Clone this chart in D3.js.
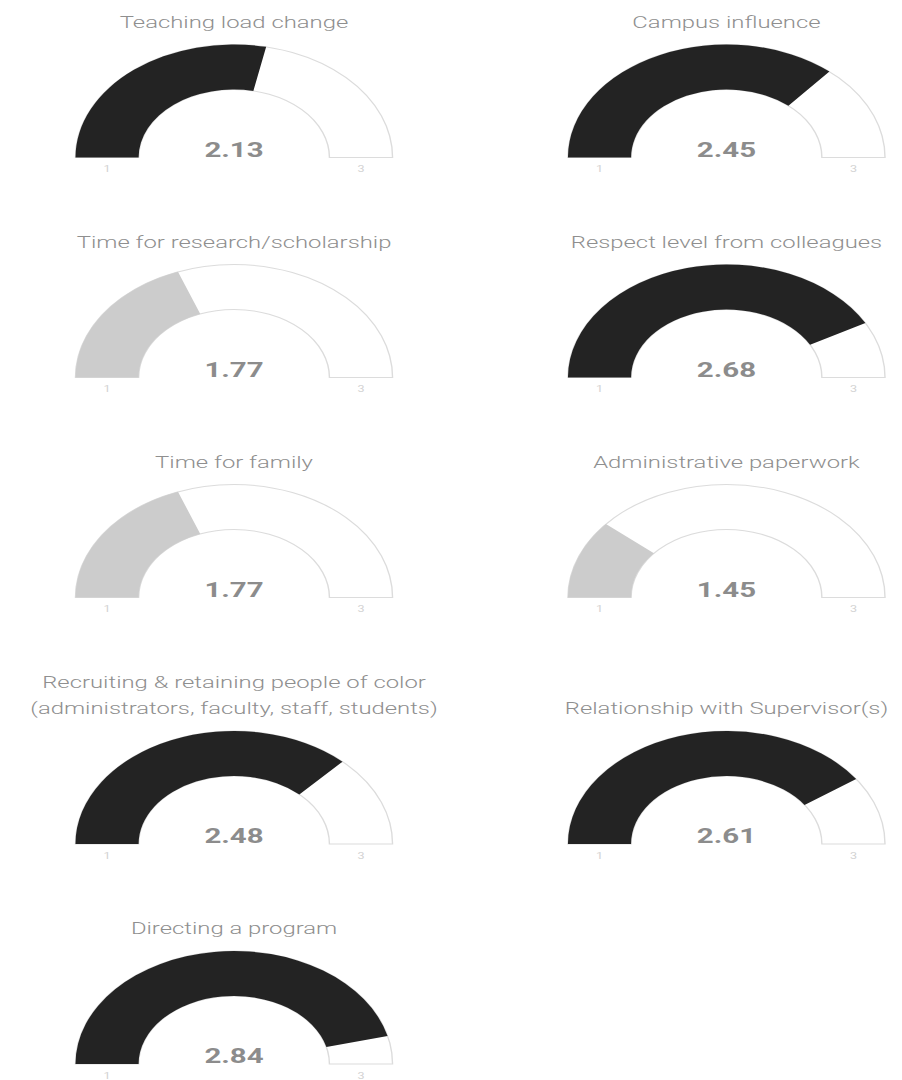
<!DOCTYPE html>
<html>
<head>
<meta charset="utf-8">
<script src="https://cdn.jsdelivr.net/npm/d3@7/dist/d3.min.js"></script>
<style>
  html, body { margin: 0; padding: 0; background: #fff; }
  svg { display: block; }
</style>
</head>
<body>
<svg id="chart"></svg>
<script>
// ---- data ----
const titles = [
  ["Teaching load change"],
  ["Campus influence"],
  ["Time for research/scholarship"],
  ["Respect level from colleagues"],
  ["Time for family"],
  ["Administrative paperwork"],
  ["Recruiting & retaining people of color", "(administrators, faculty, staff, students)"],
  ["Relationship with Supervisor(s)"],
  ["Directing a program"]
];
const values = [2.13, 2.45, 1.77, 2.68, 1.77, 1.45, 2.48, 2.61, 2.84];
const scaleMin = 1;
const scaleMax = 3;
const tickLabels = ["1", "3"];

// ---- layout ----
const W = 902, H = 1080;
const sx = 1.403;                 // horizontal stretch of the original rendering
const VW = W / sx;
const colX = [166.8, 517.8];
const rowBase = [157.5, 377.5, 597.5, 844, 1064];
const outerR = 113, innerR = 68;

const svg = d3.select("#chart")
  .attr("width", W).attr("height", H)
  .attr("viewBox", `0 0 ${VW} ${H}`)
  .attr("preserveAspectRatio", "none");

const angle = d3.scaleLinear().domain([scaleMin, scaleMax]).range([-Math.PI / 2, Math.PI / 2]);
const arc = d3.arc().innerRadius(innerR).outerRadius(outerR);

values.forEach((v, i) => {
  const cx = colX[i % 2];
  const by = rowBase[Math.floor(i / 2)];
  const g = svg.append("g").attr("transform", `translate(${cx},${by})`);

  // title (bottom-aligned lines)
  const lines = titles[i];
  const lineH = 26;
  const titleBase = -130;
  lines.forEach((t, k) => {
    g.append("text")
      .attr("x", 0)
      .attr("y", titleBase - (lines.length - 1 - k) * lineH)
      .attr("text-anchor", "middle")
      .attr("font-family", "Roboto, sans-serif")
      .attr("font-weight", 300)
      .attr("font-size", 17)
      .attr("fill", "#8f8f8f")
      .text(t);
  });

  // background arc
  g.append("path")
    .attr("d", arc({ startAngle: angle(scaleMin), endAngle: angle(scaleMax) }))
    .attr("fill", "#fff")
    .attr("stroke", "#dcdcdc")
    .attr("stroke-width", 1);

  // value arc
  g.append("path")
    .attr("d", arc({ startAngle: angle(scaleMin), endAngle: angle(v) }))
    .attr("fill", v < 2 ? "#cccccc" : "#232323");

  // value label
  g.append("text")
    .attr("x", 0).attr("y", -1)
    .attr("text-anchor", "middle")
    .attr("font-family", "Roboto, sans-serif")
    .attr("font-weight", "bold")
    .attr("font-size", 21)
    .attr("fill", "#8c8c8c")
    .text(v.toFixed(2));

  // min / max labels
  const mid = (innerR + outerR) / 2;
  [[-mid, tickLabels[0]], [mid, tickLabels[1]]].forEach(([x, t]) => {
    g.append("text")
      .attr("x", x).attr("y", 15)
      .attr("text-anchor", "middle")
      .attr("font-family", "Roboto, sans-serif")
      .attr("font-size", 9)
      .attr("fill", "#d2d2d2")
      .text(t);
  });
});
</script>
</body>
</html>
